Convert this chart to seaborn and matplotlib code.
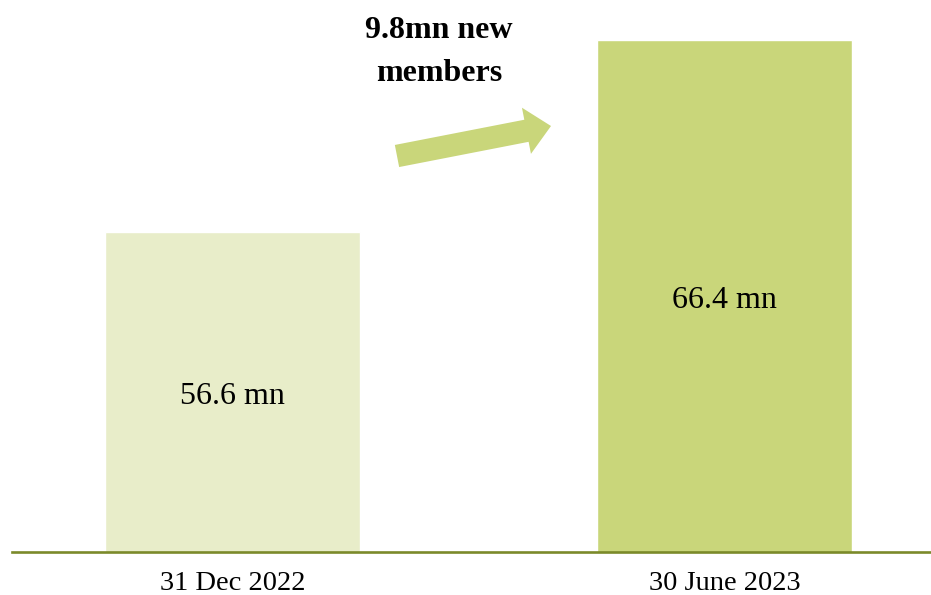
import matplotlib
matplotlib.use("Agg")
import matplotlib.pyplot as plt
import seaborn as sns
import pandas as pd
from matplotlib.patches import FancyArrow

categories = ["31 Dec 2022", "30 June 2023"]
members_mn = [56.6, 66.4]
value_labels = ["56.6 mn", "66.4 mn"]
headline = "9.8mn new\nmembers"

bar_colors = ["#e8edc9", "#c9d67a"]
axis_color = "#7b8a2a"

sns.set_theme(style="white")
plt.rcParams["font.family"] = ["Liberation Serif", "DejaVu Serif"]
plt.rcParams["text.color"] = "black"

df = pd.DataFrame({"date": categories, "members": members_mn})

fig = plt.figure(figsize=(9.31, 5.95), dpi=100)
ax = fig.add_axes([12 / 931, 1 - 552 / 595, 1 - 12 / 931, 552 / 595])

sns.barplot(data=df, x="date", y="members", hue="date", palette=bar_colors,
            width=0.518, legend=False, ax=ax, saturation=1)

ax.set_xlim(-0.448, 1.42)
ax.set_ylim(40.27, 68.44)
ymin = ax.get_ylim()[0]

for i, (v, lab) in enumerate(zip(members_mn, value_labels)):
    ax.annotate(lab, xy=(i, (ymin + v) / 2), xytext=(0, -3.5), textcoords="offset points",
                ha="center", va="center", fontsize=23, color="black")

for s in ["top", "right", "left"]:
    ax.spines[s].set_visible(False)
ax.spines["bottom"].set_color(axis_color)
ax.spines["bottom"].set_linewidth(1.9)
ax.set_yticks([])
ax.tick_params(axis="x", length=0, pad=13.5, labelsize=20.5, labelcolor="black")
ax.set_xlabel("")
ax.set_ylabel("")

fig.text(439 / 931, 1 - 52 / 595, headline, ha="center", va="center",
         fontsize=23, fontweight="bold", linespacing=1.6, color="black")

arrow = FancyArrow(3.97, 4.39, 1.54, 0.30, width=0.225, head_width=0.47,
                   head_length=0.25, length_includes_head=True,
                   color=bar_colors[1], transform=fig.dpi_scale_trans, linewidth=0)
fig.patches.append(arrow)

fig.savefig("out.png", dpi=100)
